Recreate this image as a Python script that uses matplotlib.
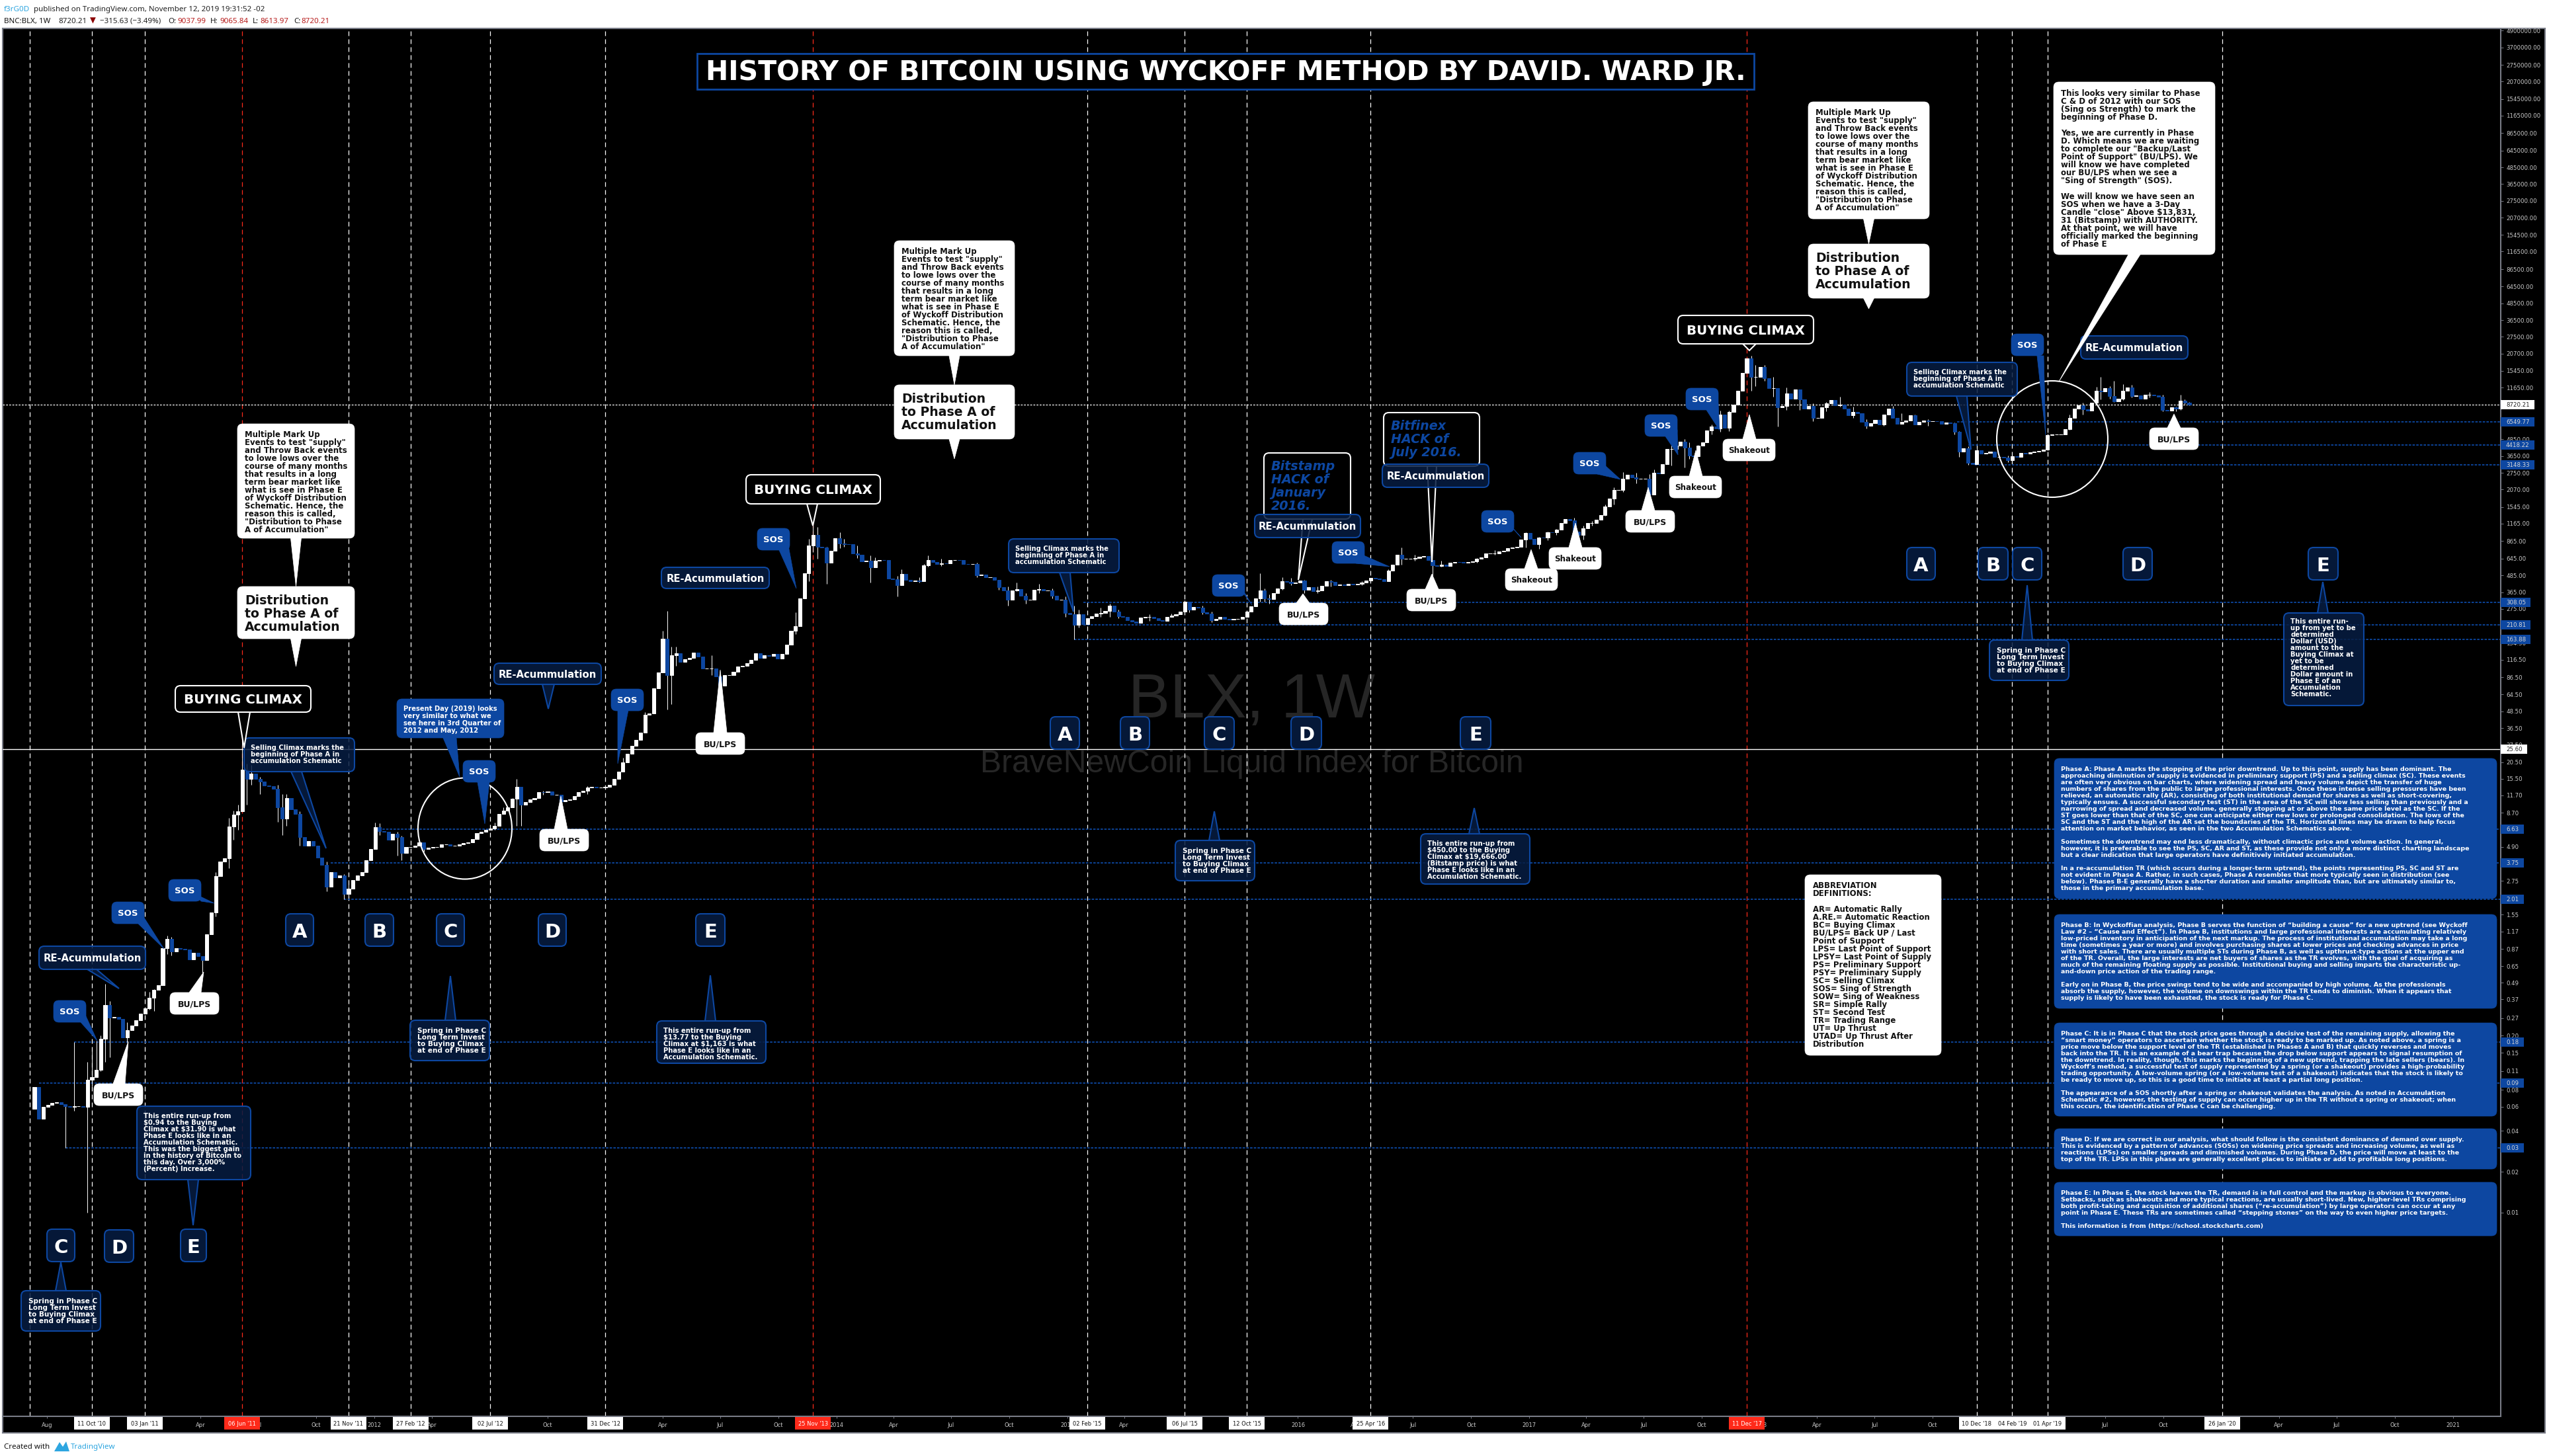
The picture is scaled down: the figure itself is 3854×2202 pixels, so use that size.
#!/usr/bin/env python3

import numpy as np
import pandas as pd
import matplotlib
matplotlib.use( 'Agg' )
import matplotlib.pyplot as plt
from matplotlib.patches import FancyBboxPatch, Polygon, Ellipse, Rectangle

W, H = 3854, 2202

# weekly closes of BNC:BLX, first week is 12 Jul 2010
first_open = 0.058
closes_2010 = [ .0843,.0488,.0598,.0618,.0638,.0648,.0628,.0605,.0601,.0608,.0608,.0598,
                .0944,.0995,.1125,.1892,.3356,.271,.274,.2666,.1944,.2187,.2369,.2596,.292 ]
closes_2011 = [ .318,.38,.434,.47,.88,1.03,.834,.88,.87,.865,.73,.81,.766,
                .718,1.108,1.61,2.98,3.82,4.05,6.9,8.4,8.9,18.0,15.5,16.9,15.4,
                14.7,13.8,13.6,13.1,9.5,7.9,11.2,9.2,8.5,5.8,5.0,5.4,5.0,
                4.1,3.6,2.5,3.2,2.9,3.0,2.2,2.4,2.8,3.0,3.2,3.9,4.7 ]
closes_2012 = [ 6.8,6.4,6.3,5.5,6.1,5.8,4.4,4.9,4.9,5.0,5.3,4.7,4.8,
                4.9,4.9,5.1,5.1,5.0,5.0,5.1,5.2,5.3,5.6,6.2,6.3,6.5,
                6.7,7.0,8.5,9.0,9.5,11.0,13.5,10.0,10.5,10.9,11.2,12.4,12.3,
                12.5,11.8,11.8,10.6,10.8,10.9,11.6,12.4,12.6,13.3,13.5,13.4,13.4,13.5 ]
closes_2013 = [ 14,15.5,17.5,20.4,23.6,27,30,34,46,47,72,94,165,
                90,125,130,112,117,120,131,123,100,100,100,88,75,
                90,90,95,104,105,110,116,130,120,125,124,128,118,
                128,150,190,205,328,502,803,961,785,775,603,736,907 ]
closes_2014 = [ 830,825,820,700,690,612,620,555,620,628,625,459,455,
                410,494,450,440,445,440,574,627,610,590,596,595,627,
                628,625,590,585,590,485,490,470,470,450,395,375,320,
                375,385,345,320,320,380,385,375,375,345,320,320,258 ]
closes_2015 = [ 250,210,250,212,235,244,255,258,265,290,262,244,240,
                228,222,218,237,240,240,235,228,225,240,245,250,262,
                310,272,285,280,260,255,228,231,240,232,230,232,232,
                240,262,288,330,375,330,325,360,390,440,435,425,430 ]
closes_2016 = [ 445,380,395,370,375,405,440,435,410,415,410,420,415,
                420,430,445,465,460,455,440,525,580,690,640,640,645,
                650,665,670,630,575,570,580,570,600,610,605,600,610,
                615,640,655,700,700,705,730,735,765,775,790,890,990 ]
closes_2017 = [ 900,820,920,915,1010,1000,1050,1180,1260,1230,1020,960,1080,
                1170,1180,1240,1340,1550,1770,2050,2050,2500,2650,2550,2500,2500,
                2500,1900,2750,2720,3200,4100,4100,4350,4650,4200,3700,3650,4350,
                4600,5650,6000,5850,7350,5900,7700,8700,11000,15000,19000,13900,14000 ]
closes_2018 = [ 16500,13700,11500,11500,8300,8500,10500,9700,11300,9500,8200,8500,7000,
                7000,8300,8900,9400,8600,8700,8200,7300,7700,7500,6500,6100,6400,
                6750,6250,7400,8200,7000,6300,6500,6700,7300,6250,6500,6700,6600,
                6600,6580,6300,6420,6400,5490,3930,4150,3250,3200,4050,3800,3850,3950 ]
closes_2019 = [ 3600,3600,3550,3400,3650,3620,3850,3790,3900,3950,3980,4090,5210,
                5250,5280,5300,5780,6960,8150,8640,8050,7880,9000,11040,10900,11500,
                10100,9200,9700,11040,11700,10100,10150,9700,10300,10350,10200,10000,7950,
                7900,8300,8150,9300,9036,8720.21 ]

# bars with a visible wick: week, low, high
wick_week = [ 7,9,12,13,14,15,16,17,21,26,27,30,31,38,41,44,45,46,47,48,49,51,55,56,57,60,66,70,71,77,83,
              109,110,142,143,144,145,153,155,172,175,176,177,179,182,189,195,201,235,243,260,261,277,278,
              287,309,316,348,365,373,381,388,389,394,435,437,467,470,472,487 ]
wick_low  = [ .03,.056,.01,.085,.10,.11,.128,.139,.18,.31,.304,.8,.78,.574,1.5,3.4,5.5,6.5,8.9,10,14,12,7.5,6,7,5,2.3,2.01,2.1,4.7,3.9,
              7,7,95,50,55,105,90,65,180,440,720,640,420,770,430,340,450,163.88,240,255,260,310,310,
              360,580,480,900,1800,3000,5500,11000,12000,6000,3600,3150,9500,9100,9400,8610 ]
wick_high = [ .063,.18,.128,.16,.184,.20,.48,.36,.25,.42,.44,1.09,1.07,.75,3.2,8,9,10,31.9,20,19.5,16,14,12,12,8.9,3.8,3.1,2.8,7.38,5.9,
              15.4,11.5,190,266,145,145,125,90,260,900,1163,1100,790,1000,680,480,590,290,300,317,310,500,390,
              450,774,620,1280,2700,4900,7900,19870,17000,9800,5600,4300,13880,13000,12300,9100 ]

# smaller wicks
small_week = [ 78,82,88,104,106,108,115,125,133,138,183,186,190,196,200,202,205,213,218,220,222,224,227,230,233,236,241,245,252,257,
               264,266,279,282,284,290,293,300,306,312,318,326,330,337,340,342,344,350,352,355,357,359,362,366,370,374,376,379,383,
               391,393,396,399,402,405,408,411,414,418,420,422,425,428,434,439,446,455,460,463,466,469,474,478,481,484,485,486 ]
small_low  = [ 6,4.2,4.5,6.5,8.5,9.6,11.8,12,19,40,790,650,560,430,430,560,570,470,380,290,370,300,360,330,240,200,240,235,225,240,
               250,220,300,380,410,360,400,410,440,620,560,600,690,780,760,880,960,890,1130,1330,1600,2000,2300,2600,3100,3500,3600,5300,5600,
               13000,10000,8000,8000,6600,7800,8400,7000,5800,6100,7300,6700,6200,6100,5300,3200,3300,4050,5700,7400,9000,9600,9900,9900,7800,7800,8000,8800 ]
small_high = [ 7.3,6.3,5.1,7.4,9.6,11.2,12.6,13.6,22,48,900,800,660,540,470,680,640,600,450,400,430,360,420,390,340,270,280,270,250,255,
               290,262,350,470,465,400,450,440,540,690,620,650,740,1000,930,1020,1060,1120,1210,1600,2150,2800,2750,2900,4400,4600,4400,6200,7900,
               17000,14000,11700,10000,8900,9100,10000,8400,6800,6800,8500,7500,7400,6800,6450,4200,3700,5350,7400,9000,11800,12000,12200,10800,10300,8400,10300,9500 ]

# horizontal levels drawn by the author: price, first week
level_price = [ 6549.77,4418.22,3148.33,308.05,210.81,163.88,6.63,3.75,2.01,0.18,0.09,0.03 ]
level_week  = [ 434.5,437,438.5,237,237,235,77,67,70,9,1,7 ]

y_ticks = [ 4900000,3700000,2750000,2070000,1545000,1165000,865000,645000,485000,365000,275000,207000,
            154500,116500,86500,64500,48500,36500,27500,20700,15450,11650,4850,3650,2750,2070,1545,1165,
            865,645,485,365,275,154.5,116.5,86.5,64.5,48.5,36.5,27.5,20.5,15.5,11.7,8.7,4.9,2.75,1.55,1.17,
            .87,.65,.49,.37,.27,.20,.15,.11,.08,.06,.04,.03,.02,.01 ]

event_week  = [ -1,13,25,47,71,85,103,129,176,238,260,274,302,387,439,447,455,494.5 ]
event_label = [ '',"11 Oct '10","03 Jan '11","06 Jun '11","21 Nov '11","27 Feb '12","02 Jul '12","31 Dec '12",
                "25 Nov '13","02 Feb '15","06 Jul '15","12 Oct '15","25 Apr '16","11 Dec '17","10 Dec '18",
                "04 Feb '19","01 Apr '19","26 Jan '20" ]
red_week    = [ 47,176,387 ]

BLUE  = '#0d47a1'
DARK  = ( 0.027, 0.114, 0.259, 0.86 )
GREY  = '#787b86'
LABEL = '#c8c8c8'

closes = np.array( closes_2010 + closes_2011 + closes_2012 + closes_2013 + closes_2014
                   + closes_2015 + closes_2016 + closes_2017 + closes_2018 + closes_2019 )
weeks  = np.arange( closes.size )
opens  = np.concatenate( ( [ first_open ], closes[:-1] ) )

fig = plt.figure( figsize = ( W / 100, H / 100 ), dpi = 100, facecolor = 'white' )

def frac( x0, y0, x1, y1 ):
    return [ x0 / W, 1 - y1 / H, ( x1 - x0 ) / W, ( y1 - y0 ) / H ]

back = fig.add_axes( frac( 4, 43, 3848, 2167 ), zorder = 0 )
back.set_facecolor( 'black' )
back.set_xticks( [] ); back.set_yticks( [] )
for s in back.spines.values():
    s.set_color( GREY ); s.set_linewidth( 1.5 )

ax = fig.add_axes( frac( 4, 43, 3781, 2142 ), zorder = 1 )
ax.patch.set_alpha( 0 )
ax.set_yscale( 'log' )
ax.set_xlim( ( 4 - 52 ) / 6.69, ( 3781 - 52 ) / 6.69 )
ax.set_ylim( 10**( -3.4974 ), 10**( 6.7068 ) )

for w in event_week:
    ax.axvline( w, color = '#ff2a1a' if w in red_week else 'white', lw = 0.9,
                ls = ( 0, ( 5.6, 4 ) ), zorder = 1 )
for p, w in zip( level_price, level_week ):
    ax.plot( [ w, 600 ], [ p, p ], color = BLUE, lw = 1.3, ls = ( 0, ( 2.0, 1.1 ) ), zorder = 1.5 )
ax.axhline( 8720.21, color = 'white', lw = 0.9, ls = ( 0, ( 2.2, 1.6 ) ), zorder = 1.5 )
ax.axhline( 25.60, color = 'white', lw = 1.0, zorder = 1.5 )

up = closes >= opens
col = np.where( up, 'white', BLUE )
body_lo = np.minimum( opens, closes )
body_hi = np.maximum( opens, closes )
ax.vlines( wick_week + small_week, wick_low + small_low, wick_high + small_high, color = 'white', lw = 0.7, zorder = 2 )
ax.bar( weeks, body_hi - body_lo, bottom = body_lo, width = 0.76, color = col, edgecolor = col, lw = 0.7, zorder = 3 )

# time axis: one label per quarter, the event tags go over them
q_dates = [ pd.Timestamp( '2010-08-01' ) ] + list( pd.date_range( '2010-10-01', '2021-01-01', freq = 'QS' ) )
q_pos   = [ ( d - pd.Timestamp( '2010-07-12' ) ).days / 7 for d in q_dates ]
q_names = [ str( d.year ) if d.month == 1 else d.strftime( '%b' ) for d in q_dates ]
ax.set_xticks( q_pos )
ax.set_xticklabels( q_names, fontsize = 6, color = LABEL )
ax.tick_params( axis = 'x', length = 2.5, width = 0.7, color = GREY, pad = 4 )

ax.yaxis.tick_right()
ax.set_yticks( y_ticks )
ax.set_yticklabels( [ '{:.2f}'.format( v ) for v in y_ticks ], fontsize = 6.2, color = LABEL )
ax.yaxis.set_minor_locator( matplotlib.ticker.NullLocator() )
ax.tick_params( axis = 'y', length = 3, width = 0.7, color = GREY, pad = 3 )
for s in [ 'top', 'left' ]:
    ax.spines[s].set_visible( False )
for s in [ 'bottom', 'right' ]:
    ax.spines[s].set_color( GREY ); ax.spines[s].set_linewidth( 1.5 )

# everything else sits on a layer measured in picture pixels
top = fig.add_axes( [ 0, 0, 1, 1 ], zorder = 3 )
top.patch.set_alpha( 0 )
top.set_xlim( 0, W ); top.set_ylim( H, 0 )
top.axis( 'off' )

z = [ 10 ]
def nextz():
    z[0] += 1
    return z[0]

def price_y( p ):
    return H - ax.transData.transform( ( 0, p ) )[1]

def week_x( w ):
    return ax.transData.transform( ( w, 1 ) )[0]

def put( x, y, text, size, pitch = 0, color = 'white', weight = 'bold', ha = 'left', style = 'normal', family = 'DejaVu Sans' ):
    zz = nextz()
    for n, line in enumerate( text.split( '\n' ) ):
        top.text( x, y + n * pitch, line, fontsize = size, color = color, fontweight = weight, ha = ha, va = 'baseline',
                  fontstyle = style, family = family, zorder = zz )

def bubble( x0, y0, x1, y1, kind, tip = None, base = None, r = 8 ):
    face, edge, lw = { 'white' : ( 'white', 'white', 0.5 ),
                       'blue'  : ( BLUE, BLUE, 0.5 ),
                       'dark'  : ( DARK, BLUE, 1.5 ),
                       'line'  : ( 'black', 'white', 1.5 ) }[kind]
    if ( tip is not None ):
        top.add_patch( Polygon( [ base[:2], tip, base[2:] ], closed = True, fc = face, ec = edge, lw = lw, zorder = nextz() ) )
    top.add_patch( FancyBboxPatch( ( x0, y0 ), x1 - x0, y1 - y0, boxstyle = 'round,pad=0,rounding_size={:}'.format( r ),
                                   fc = face, ec = edge, lw = lw, zorder = nextz() ) )

def tag( x0, y0, x1, y1, kind, text, size, tip = None, base = None, color = 'white' ):
    bubble( x0, y0, x1, y1, kind, tip, base )
    put( ( x0 + x1 ) / 2, ( y0 + y1 ) / 2 + size * 0.52, text, size, color = color, ha = 'center' )

def sos( x0, y0, tip, base ):
    tag( x0, y0, x0 + 49, y0 + 33, 'blue', 'SOS', 9.5, tip, base )

def bulps( x0, y0, tip, base, text = 'BU/LPS' ):
    w = 74 if text == 'BU/LPS' else 79
    tag( x0, y0, x0 + w, y0 + 33, 'white', text, 9 if text == 'BU/LPS' else 8.6, tip, base, color = '#111111' )

def reacc( x0, y0, x1, y1, tip = None, base = None ):
    tag( x0, y0, x1, y1, 'dark', 'RE-Acummulation', 10.7, tip, base )

def climax( x0, y0, x1, y1, tip, base ):
    tag( x0, y0, x1, y1, 'line', 'BUYING CLIMAX', 14.3, tip, base )

multi_text = 'Multiple Mark Up\nEvents to test "supply"\nand Throw Back events\nto lowe lows over the\ncourse of many months\nthat results in a long\nterm bear market like\nwhat is see in Phase E\nof Wyckoff Distribution\nSchematic. Hence, the\nreason this is called,\n"Distribution to Phase\nA of Accumulation"'
dist_text = 'Distribution\nto Phase A of\nAccumulation'
for x0, x1, ya, yb, yc, yd, ye in [ ( 359, 536, 641, 814, 887, 966, 1008 ),
                                   ( 1352, 1534, 364, 538, 582, 664, 694 ),
                                   ( 2734, 2917, 154, 331, 369, 451, 467 ) ]:
    xm = ( x0 + x1 ) / 2
    bubble( x0, ya, x1, yb, 'white', ( xm, yc ), ( xm - 8, yb, xm + 8, yb ) )
    put( x0 + 11, ya + 20, multi_text, 8.5, 12, '#111111' )
    bubble( x0, yc, x1, yd, 'white', ( xm, ye ), ( xm - 8, yd, xm + 8, yd ) )
    put( x0 + 11, yc + 27, dist_text, 13.6, 20, '#111111' )

# circles round Phase C and D
top.add_patch( Ellipse( ( 703, 1253 ), 142, 153, fc = 'none', ec = 'white', lw = 1.5, zorder = nextz() ) )
top.add_patch( Ellipse( ( 3103, 664 ), 168, 176, fc = 'none', ec = 'white', lw = 1.5, zorder = nextz() ) )

# phase letters
for letter, x0, x1, y0 in [ ( 'C', 71, 113, 1859 ), ( 'D', 158, 202, 1860 ), ( 'E', 273, 312, 1859 ),
                            ( 'A', 432, 474, 1382 ), ( 'B', 552, 595, 1382 ), ( 'C', 660, 702, 1382 ),
                            ( 'D', 814, 856, 1382 ), ( 'E', 1052, 1096, 1382 ),
                            ( 'A', 1588, 1632, 1084 ), ( 'B', 1694, 1738, 1084 ), ( 'C', 1821, 1866, 1084 ),
                            ( 'D', 1952, 1998, 1084 ), ( 'E', 2208, 2254, 1084 ),
                            ( 'A', 2883, 2926, 828 ), ( 'B', 2991, 3036, 828 ), ( 'C', 3043, 3087, 828 ),
                            ( 'D', 3210, 3254, 828 ), ( 'E', 3490, 3535, 828 ) ]:
    bubble( x0, y0, x1, y0 + 49, 'dark' )
    put( ( x0 + x1 ) / 2, y0 + 36, letter, 21, ha = 'center' )

spring_text = 'Spring in Phase C\nLong Term Invest\nto Buying Climax\nat end of Phase E'
for x0, y0, xm, ytip in [ ( 32, 1952, 92, 1909 ), ( 620, 1543, 681, 1476 ), ( 1777, 1271, 1836, 1227 ), ( 3008, 968, 3065, 885 ) ]:
    bubble( x0, y0, x0 + 120, y0 + 61, 'dark', ( xm, ytip ), ( xm - 8, y0, xm + 8, y0 ) )
    put( x0 + 11, y0 + 19, spring_text, 7.6, 10 )

bubble( 207, 1673, 379, 1784, 'dark', ( 292, 1853 ), ( 284, 1784, 300, 1784 ) )
put( 217, 1691, 'This entire run-up from\n$0.94 to the Buying\nClimax at $31.90 is what\nPhase E looks like in an\nAccumulation Schematic.\nThis was the biggest gain\nin the history of Bitcoin to\nthis day. Over 3,000%\n(Percent) Increase.', 7.2, 10 )
bubble( 993, 1544, 1158, 1608, 'dark', ( 1074, 1475 ), ( 1066, 1544, 1082, 1544 ) )
put( 1003, 1562, 'This entire run-up from\n$13.77 to the Buying\nClimax at $1,163 is what\nPhase E looks like in an\nAccumulation Schematic.', 7.2, 10 )
bubble( 2148, 1261, 2313, 1337, 'dark', ( 2229, 1222 ), ( 2221, 1261, 2237, 1261 ) )
put( 2158, 1279, 'This entire run-up from\n$450.00 to the Buying\nClimax at $19,666.00\n(Bitstamp price) is what\nPhase E looks like in an\nAccumulation Schematic.', 7.2, 10 )
bubble( 3453, 927, 3574, 1067, 'dark', ( 3512, 880 ), ( 3504, 927, 3520, 927 ) )
put( 3463, 943, 'This entire run-\nup from yet to be\ndetermined\nDollar (USD)\namount to the\nBuying Climax at\nyet to be\ndetermined\nDollar amount in\nPhase E of an\nAccumulation\nSchematic.', 7.2, 10 )

sell_text = 'Selling Climax marks the\nbeginning of Phase A in\naccumulation Schematic'
for x0, y0, tip, xa, xb in [ ( 369, 1116, ( 493, 1283 ), 440, 456 ), ( 1525, 815, ( 1623, 925 ), 1602, 1618 ), ( 2883, 548, ( 2980, 680 ), 2958, 2974 ) ]:
    bubble( x0, y0, x0 + 167, y0 + 51, 'dark', tip, ( xa, y0 + 51, xb, y0 + 51 ) )
    put( x0 + 10, y0 + 18, sell_text, 7.2, 10 )

bubble( 600, 1057, 762, 1116, 'blue', ( 695, 1175 ), ( 670, 1116, 690, 1116 ) )
put( 610, 1075, 'Present Day (2019) looks\nvery similar to what we\nsee here in 3rd Quarter of\n2012 and May, 2012', 7.2, 11 )

reacc( 59, 1431, 220, 1466, ( 180, 1495 ), ( 132, 1466, 146, 1466 ) )
reacc( 747, 1003, 909, 1035, ( 829, 1072 ), ( 820, 1035, 838, 1035 ) )
reacc( 1000, 858, 1163, 890 )
reacc( 3146, 508, 3308, 543 )

sos( 255, 1330, ( 324, 1366 ), ( 295, 1352, 304, 1363 ) )
sos( 169, 1364, ( 248, 1435 ), ( 209, 1397, 218, 1388 ) )
sos( 81, 1513, ( 147, 1574 ), ( 122, 1546, 130, 1537 ) )
sos( 700, 1150, ( 733, 1246 ), ( 722, 1183, 740, 1183 ) )
sos( 924, 1042, ( 934, 1155 ), ( 934, 1074, 950, 1074 ) )
sos( 1145, 799, ( 1204, 890 ), ( 1178, 832, 1192, 825 ) )
sos( 1833, 869, ( 1893, 915 ), ( 1875, 885, 1882, 900 ) )
sos( 2014, 819, ( 2101, 857 ), ( 2050, 852, 2062, 840 ) )
sos( 2240, 772, ( 2300, 813 ), ( 2280, 790, 2288, 800 ) )
sos( 2379, 684, ( 2450, 725 ), ( 2415, 717, 2428, 705 ) )
sos( 2487, 627, ( 2537, 688 ), ( 2518, 660, 2536, 650 ) )
sos( 2549, 587, ( 2600, 651 ), ( 2580, 620, 2598, 610 ) )
sos( 3041, 505, ( 3093, 658 ), ( 3080, 538, 3090, 538 ) )

bulps( 257, 1501, ( 308, 1470 ), ( 286, 1501, 304, 1501 ) )
bulps( 142, 1639, ( 194, 1575 ), ( 171, 1639, 189, 1639 ) )
bulps( 816, 1254, ( 848, 1204 ), ( 838, 1254, 858, 1254 ) )
bulps( 1052, 1108, ( 1089, 1013 ), ( 1079, 1108, 1099, 1108 ) )
bulps( 1934, 912, ( 1970, 898 ), ( 1960, 912, 1980, 912 ) )
bulps( 2127, 891, ( 2165, 868 ), ( 2155, 891, 2175, 891 ) )
bulps( 2458, 772, ( 2492, 737 ), ( 2482, 772, 2502, 772 ) )
bulps( 3250, 647, ( 3287, 626 ), ( 3277, 647, 3297, 647 ) )
bulps( 2276, 860, ( 2315, 831 ), ( 2305, 860, 2325, 860 ), 'Shakeout' )
bulps( 2342, 828, ( 2382, 791 ), ( 2372, 828, 2392, 828 ), 'Shakeout' )
bulps( 2524, 720, ( 2564, 681 ), ( 2554, 720, 2574, 720 ), 'Shakeout' )
bulps( 2605, 664, ( 2645, 627 ), ( 2635, 664, 2655, 664 ), 'Shakeout' )

climax( 265, 1037, 470, 1077, ( 369, 1131 ), ( 360, 1077, 378, 1077 ) )
climax( 1128, 718, 1331, 762, ( 1229, 795 ), ( 1220, 762, 1236, 762 ) )
climax( 2537, 477, 2742, 520, ( 2645, 530 ), ( 2635, 520, 2655, 520 ) )

# hack notes, the re-accumulation tags sit over them
bubble( 1911, 685, 2042, 785, 'line', ( 1963, 877 ), ( 1970, 785, 1984, 785 ) )
put( 1922, 711, 'Bitstamp\nHACK of\nJanuary\n2016.', 13.8, 20, BLUE, style = 'italic' )
reacc( 1897, 778, 2057, 813 )
bubble( 2092, 624, 2237, 705, 'line', ( 2165, 850 ), ( 2158, 705, 2172, 705 ) )
put( 2103, 650, 'Bitfinex\nHACK of\nJuly 2016.', 13.8, 20, BLUE, style = 'italic' )
reacc( 2090, 702, 2251, 737 )

bubble( 3105, 124, 3349, 385, 'white', ( 3113, 577 ), ( 3218, 385, 3236, 385 ) )
put( 3116, 145, 'This looks very similar to Phase\nC & D of 2012 with our SOS\n(Sing os Strength) to mark the\nbeginning of Phase D.\n\nYes, we are currently in Phase\nD. Which means we are waiting\nto complete our "Backup/Last\nPoint of Support" (BU/LPS). We\nwill know we have completed\nour BU/LPS when we see a\n"Sing of Strength" (SOS).\n\nWe will know we have seen an\nSOS when we have a 3-Day\nCandle "close" Above $13,831,\n31 (Bitstamp) with AUTHORITY.\nAt that point, we will have\nofficially marked the beginning\nof Phase E', 8.5, 12, '#111111' )

bubble( 2729, 1323, 2935, 1596, 'white' )
put( 2741, 1343, 'ABBREVIATION\nDEFINITIONS:\n\nAR= Automatic Rally\nA.RE.= Automatic Reaction\nBC= Buying Climax\nBU/LPS= Back UP / Last\nPoint of Support\nLPS= Last Point of Support\nLPSY= Last Point of Supply\nPS= Preliminary Support\nPSY= Preliminary Supply\nSC= Selling Climax\nSOS= Sing of Strength\nSOW= Sing of Weakness\nSR= Simple Rally\nST= Second Test\nTR= Trading Range\nUT= Up Thrust\nUTAD= Up Thrust After\nDistribution', 8.4, 12, '#111111' )

phase_a = 'Phase A: Phase A marks the stopping of the prior downtrend. Up to this point, supply has been dominant. The\napproaching diminution of supply is evidenced in preliminary support (PS) and a selling climax (SC). These events\nare often very obvious on bar charts, where widening spread and heavy volume depict the transfer of huge\nnumbers of shares from the public to large professional interests. Once these intense selling pressures have been\nrelieved, an automatic rally (AR), consisting of both institutional demand for shares as well as short-covering,\ntypically ensues. A successful secondary test (ST) in the area of the SC will show less selling than previously and a\nnarrowing of spread and decreased volume, generally stopping at or above the same price level as the SC. If the\nST goes lower than that of the SC, one can anticipate either new lows or prolonged consolidation. The lows of the\nSC and the ST and the high of the AR set the boundaries of the TR. Horizontal lines may be drawn to help focus\nattention on market behavior, as seen in the two Accumulation Schematics above.\n\nSometimes the downtrend may end less dramatically, without climactic price and volume action. In general,\nhowever, it is preferable to see the PS, SC, AR and ST, as these provide not only a more distinct charting landscape\nbut a clear indication that large operators have definitively initiated accumulation.\n\nIn a re-accumulation TR (which occurs during a longer-term uptrend), the points representing PS, SC and ST are\nnot evident in Phase A. Rather, in such cases, Phase A resembles that more typically seen in distribution (see\nbelow). Phases B-E generally have a shorter duration and smaller amplitude than, but are ultimately similar to,\nthose in the primary accumulation base.'
phase_b = 'Phase B: In Wyckoffian analysis, Phase B serves the function of \u201cbuilding a cause\u201d for a new uptrend (see Wyckoff\nLaw #2 \u2013 \u201cCause and Effect\u201d). In Phase B, institutions and large professional interests are accumulating relatively\nlow-priced inventory in anticipation of the next markup. The process of institutional accumulation may take a long\ntime (sometimes a year or more) and involves purchasing shares at lower prices and checking advances in price\nwith short sales. There are usually multiple STs during Phase B, as well as upthrust-type actions at the upper end\nof the TR. Overall, the large interests are net buyers of shares as the TR evolves, with the goal of acquiring as\nmuch of the remaining floating supply as possible. Institutional buying and selling imparts the characteristic up-\nand-down price action of the trading range.\n\nEarly on in Phase B, the price swings tend to be wide and accompanied by high volume. As the professionals\nabsorb the supply, however, the volume on downswings within the TR tends to diminish. When it appears that\nsupply is likely to have been exhausted, the stock is ready for Phase C.'
phase_c = 'Phase C: It is in Phase C that the stock price goes through a decisive test of the remaining supply, allowing the\n\u201csmart money\u201d operators to ascertain whether the stock is ready to be marked up. As noted above, a spring is a\nprice move below the support level of the TR (established in Phases A and B) that quickly reverses and moves\nback into the TR. It is an example of a bear trap because the drop below support appears to signal resumption of\nthe downtrend. In reality, though, this marks the beginning of a new uptrend, trapping the late sellers (bears). In\nWyckoff\'s method, a successful test of supply represented by a spring (or a shakeout) provides a high-probability\ntrading opportunity. A low-volume spring (or a low-volume test of a shakeout) indicates that the stock is likely to\nbe ready to move up, so this is a good time to initiate at least a partial long position.\n\nThe appearance of a SOS shortly after a spring or shakeout validates the analysis. As noted in Accumulation\nSchematic #2, however, the testing of supply can occur higher up in the TR without a spring or shakeout; when\nthis occurs, the identification of Phase C can be challenging.'
phase_d = 'Phase D: If we are correct in our analysis, what should follow is the consistent dominance of demand over supply.\nThis is evidenced by a pattern of advances (SOSs) on widening price spreads and increasing volume, as well as\nreactions (LPSs) on smaller spreads and diminished volumes. During Phase D, the price will move at least to the\ntop of the TR. LPSs in this phase are generally excellent places to initiate or add to profitable long positions.'
phase_e = 'Phase E: In Phase E, the stock leaves the TR, demand is in full control and the markup is obvious to everyone.\nSetbacks, such as shakeouts and more typical reactions, are usually short-lived. New, higher-level TRs comprising\nboth profit-taking and acquisition of additional shares (\u201cre-accumulation\u201d) by large operators can occur at any\npoint in Phase E. These TRs are sometimes called \u201cstepping stones\u201d on the way to even higher price targets.\n\nThis information is from (https://school.stockcharts.com)'
for y0, y1, text in [ ( 1147, 1359, phase_a ), ( 1383, 1525, phase_b ), ( 1547, 1688, phase_c ), ( 1707, 1768, phase_d ), ( 1788, 1869, phase_e ) ]:
    bubble( 3106, y0, 3775, y1, 'blue' )
    put( 3116, y0 + 19, text, 6.8, 10 )

# title and watermark
top.add_patch( Rectangle( ( 1054, 81 ), 1598, 54, fc = 'black', ec = BLUE, lw = 2, zorder = nextz() ) )
put( 1853, 121, 'HISTORY OF BITCOIN USING WYCKOFF METHOD BY DAVID. WARD JR.', 29.5, color = 'white', ha = 'center' )
ax.text( ( 1893 - 52 ) / 6.69, 10**( 3.9406 - ( 1085 - 612 ) / 205.7 ), 'BLX, 1W', fontsize = 68, color = '#262626',
         ha = 'center', va = 'baseline', family = 'Liberation Sans', zorder = 0.5 )
ax.text( ( 1893 - 52 ) / 6.69, 10**( 3.9406 - ( 1168 - 612 ) / 205.7 ), 'BraveNewCoin Liquid Index for Bitcoin', fontsize = 34.7, color = '#262626',
         ha = 'center', va = 'baseline', family = 'Liberation Sans', zorder = 0.5 )

# price tags on the right axis
for p in level_price:
    yy = price_y( p )
    x1 = 3832 if p > 1000 else ( 3826 if p > 100 else 3816 )
    top.add_patch( Rectangle( ( 3781, yy - 7 ), x1 - 3781, 14, fc = BLUE, ec = BLUE, lw = 0, zorder = nextz() ) )
    top.text( 3789, yy + 3, '{:.2f}'.format( p ), fontsize = 6.2, color = '#d8d8d8', va = 'baseline', zorder = nextz() )
for p, x1 in [ ( 8720.21, 3832 ), ( 25.60, 3821 ) ]:
    yy = price_y( p )
    top.add_patch( Rectangle( ( 3781, yy - 7 ), x1 - 3781, 14, fc = 'white', ec = 'white', lw = 0, zorder = nextz() ) )
    top.text( 3789, yy + 3, '{:.2f}'.format( p ), fontsize = 6.2, color = '#222222', va = 'baseline', zorder = nextz() )

# date tags on the time axis
for w, label in zip( event_week, event_label ):
    if ( label == '' ):
        continue
    xx = week_x( w )
    red = w in red_week
    top.add_patch( Rectangle( ( xx - 27, 2143 ), 54, 19, fc = '#ff2a1a' if red else 'white', lw = 0, zorder = nextz() ) )
    top.text( xx, 2156, label, fontsize = 6, color = 'white' if red else '#111111', ha = 'center', va = 'baseline', zorder = nextz() )

# header and footer on the white page
head = 'Noto Sans'
put( 6, 17, 'f3rG0D', 8.3, color = '#2ea6e0', weight = 'normal', family = head )
put( 51, 17, 'published on TradingView.com, November 12, 2019 19:31:52 -02', 8.3, color = '#222222', weight = 'normal', family = head )
put( 6, 35, 'BNC:BLX, 1W', 8.3, color = '#111111', family = head )
put( 88, 35, '8720.21', 8.3, color = '#222222', weight = 'normal', family = head )
put( 136, 35, '\u25bc', 8.3, color = '#8b0000', weight = 'normal' )
put( 151, 35, '\u2212315.63 (\u22123.49%)', 8.3, color = '#222222', weight = 'normal', family = head )
for x_l, name, x_v, value in [ ( 254, 'O:', 268, '9037.99' ), ( 318, 'H:', 332, '9065.84' ),
                               ( 382, 'L:', 393, '8613.97' ), ( 444, 'C:', 455, '8720.21' ) ]:
    put( x_l, 35, name, 8.3, color = '#111111', family = head )
    put( x_v, 35, value, 8.3, color = '#b71c1c', weight = 'normal', family = head )
put( 6, 2191, 'Created with', 8.3, color = '#111111', weight = 'normal', family = head )
top.add_patch( Polygon( [ ( 82, 2195 ), ( 90, 2181 ), ( 95, 2188 ), ( 100, 2180 ), ( 105, 2195 ) ], closed = True, fc = '#2ea6e0', ec = 'none', zorder = nextz() ) )
put( 107, 2191, 'TradingView', 8.3, color = '#2ea6e0', weight = 'normal', family = head )

fig.savefig( 'out.png', dpi = 100, facecolor = 'white' )
